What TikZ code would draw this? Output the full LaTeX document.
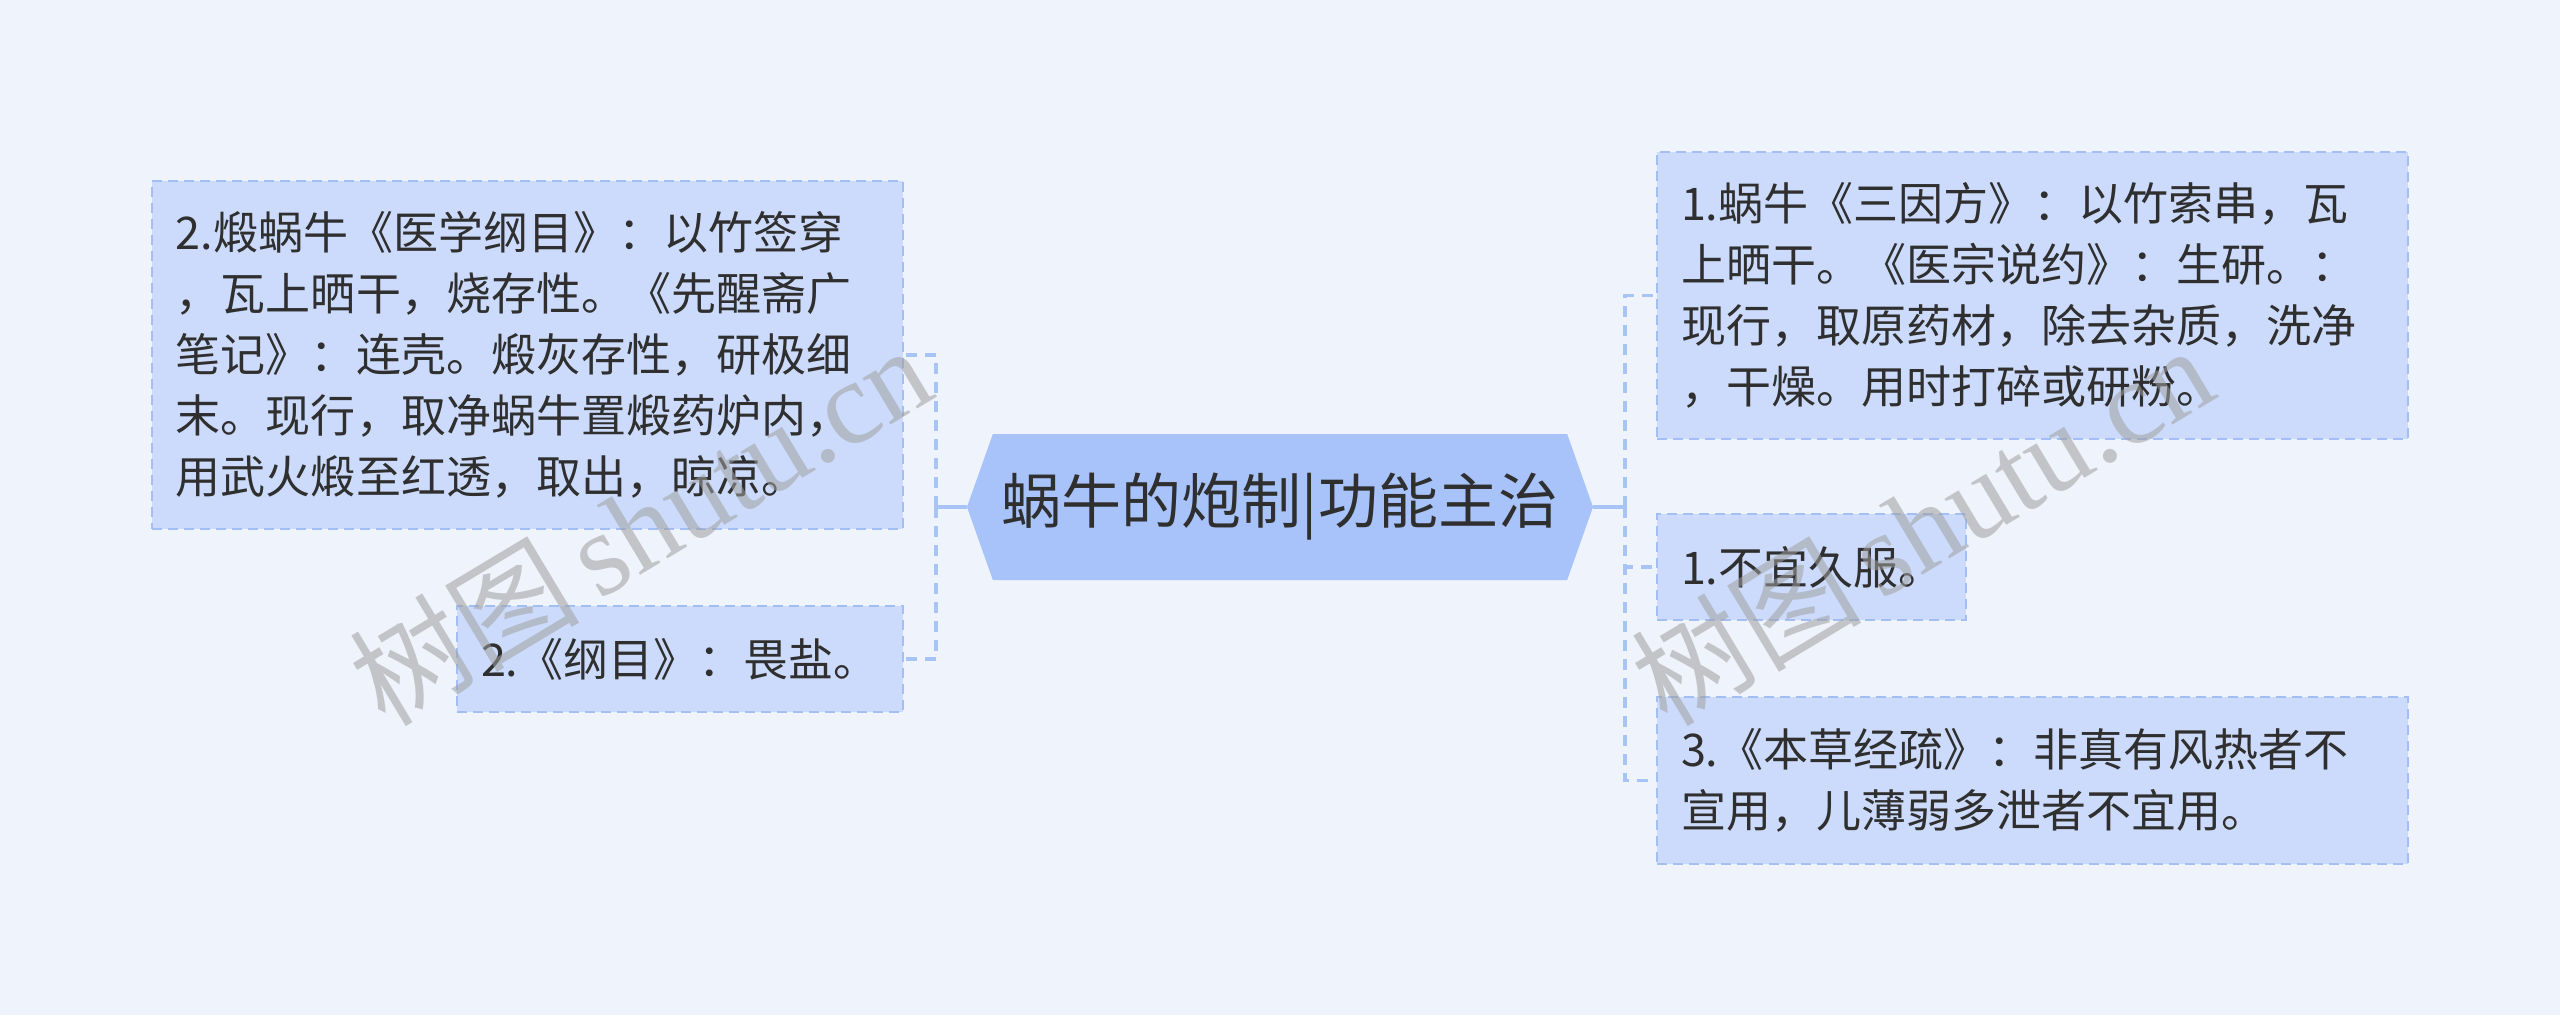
\documentclass[tikz,border=0pt]{standalone}
\usepackage{fontspec}
\newfontfamily\cjk{Noto Sans CJK SC}
\newfontfamily\wmserif{Liberation Serif}
\usetikzlibrary{shapes.symbols}
\definecolor{bgc}{HTML}{EEF3FC}
\definecolor{boxfill}{HTML}{CCDBFB}
\definecolor{boxline}{HTML}{A3BEF3}
\definecolor{centfill}{HTML}{A8C3FA}
\definecolor{linec}{HTML}{A8C3F5}
\definecolor{textc}{HTML}{2F2F2F}
\tikzset{
  leafbox/.style={draw=boxline, dash pattern=on 10bp off 6bp, line width=2bp,
    fill=boxfill, inner xsep=24bp, inner ysep=0bp, align=left, text=textc,
    font=\cjk\fontsize{45bp}{61bp}\selectfont},
  trunk/.style={draw=linec, line width=3.5bp},
  branch/.style={draw=linec, line width=3.5bp, dash pattern=on 11bp off 8bp},
  wmark/.style={rotate=31, text=gray!75, opacity=0.55, inner sep=0}
}
\begin{document}
\begin{tikzpicture}[x=1bp,y=-1bp]
\fill[bgc] (0,0) rectangle (2560,1015);
\useasboundingbox (0,0) rectangle (2560,1015);

% central topic
\node[signal, signal to=west and east, signal pointer angle=141, fill=centfill,
  minimum width=626bp, minimum height=146bp, inner sep=0, text=textc,
  font=\cjk\fontsize{60bp}{70bp}\selectfont] (c) at (1280,507) {蜗牛的炮制|功能主治};

% left nodes
\node[leafbox, minimum width=751bp, minimum height=348bp, text width=703bp] (l1) at (527.5,355)
{2.煅蜗牛《医学纲目》：以竹签穿\\，瓦上晒干，烧存性。《先醒斋广\\笔记》：连壳。煅灰存性，研极细\\末。现行，取净蜗牛置煅药炉内，\\用武火煅至红透，取出，晾凉。};
\node[leafbox, minimum width=446bp, minimum height=106bp, text width=398bp] (l2) at (680,659)
{2.《纲目》：畏盐。};

% right nodes
\node[leafbox, minimum width=751bp, minimum height=287bp, text width=703bp] (r1) at (2032.5,295.5)
{1.蜗牛《三因方》：以竹索串，瓦\\上晒干。《医宗说约》：生研。：\\现行，取原药材，除去杂质，洗净\\，干燥。用时打碎或研粉。};
\node[leafbox, minimum width=309bp, minimum height=106bp, text width=261bp] (r2) at (1811.5,567)
{1.不宜久服。};
\node[leafbox, minimum width=751bp, minimum height=167bp, text width=703bp] (r3) at (2032.5,780.5)
{3.《本草经疏》：非真有风热者不\\宣用，儿薄弱多泄者不宜用。};

% connectors
\coordinate (lj) at (936,507);
\coordinate (rj) at (1625,507);
\draw[trunk] (c.west) -- (lj);
\draw[trunk] (c.east) -- (rj);
\draw[branch] (lj) |- (l1.east);
\draw[branch] (lj) |- (l2.east);
\draw[branch] (rj) |- (r1.west);
\draw[branch] (rj) |- (r2.west);
\draw[branch] (rj) |- (r3.west);

% watermarks
\node[wmark] (w1) at (640,525) {\cjk\fontsize{115bp}{120bp}\selectfont 树图\,\wmserif\fontsize{118bp}{120bp}\selectfont shutu.cn};
\node[wmark] (w2) at (1922,525) {\cjk\fontsize{115bp}{120bp}\selectfont 树图\,\wmserif\fontsize{118bp}{120bp}\selectfont shutu.cn};
\end{tikzpicture}
\end{document}
